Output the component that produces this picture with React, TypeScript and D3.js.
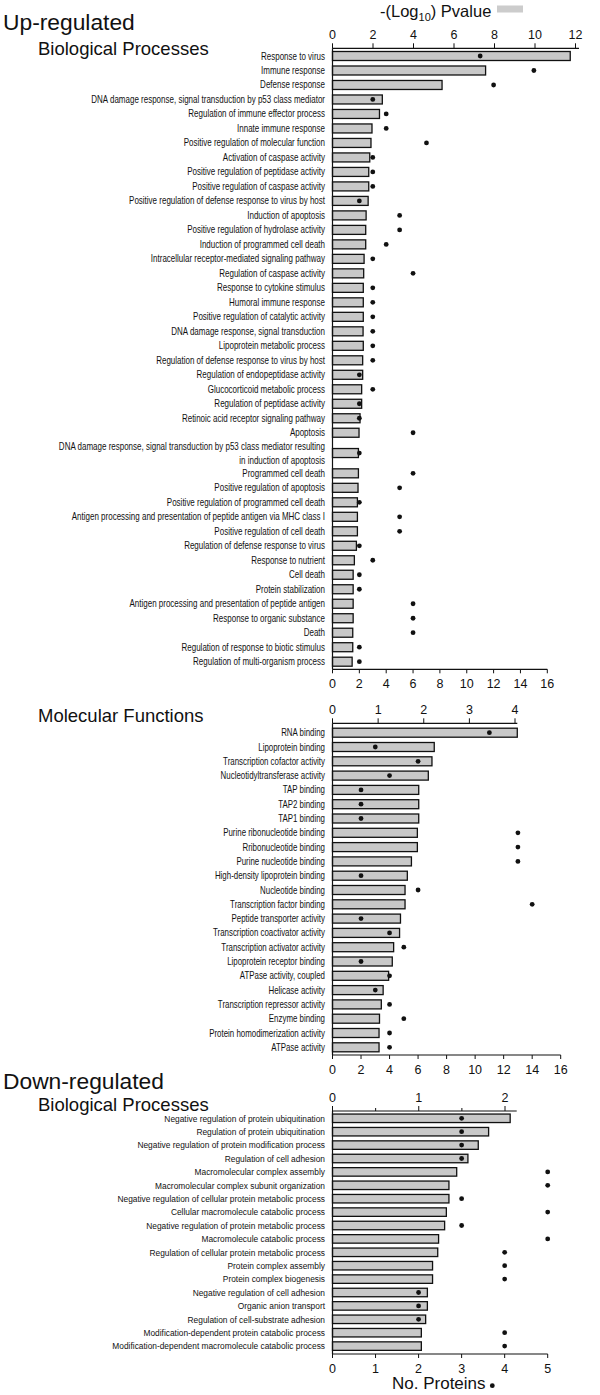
import React from "react";
import * as d3 from "d3";

// ---------------- Data ----------------
const upBPTerms = [
  "Response to virus",
  "Immune response",
  "Defense response",
  "DNA damage response, signal transduction by p53 class mediator",
  "Regulation of immune effector process",
  "Innate immune response",
  "Positive regulation of molecular function",
  "Activation of caspase activity",
  "Positive regulation of peptidase activity",
  "Positive regulation of caspase activity",
  "Positive regulation of defense response to virus by host",
  "Induction of apoptosis",
  "Positive regulation of hydrolase activity",
  "Induction of programmed cell death",
  "Intracellular receptor-mediated signaling pathway",
  "Regulation of caspase activity",
  "Response to cytokine stimulus",
  "Humoral immune response",
  "Positive regulation of catalytic activity",
  "DNA damage response, signal transduction",
  "Lipoprotein metabolic process",
  "Regulation of defense response to virus by host",
  "Regulation of endopeptidase activity",
  "Glucocorticoid metabolic process",
  "Regulation of peptidase activity",
  "Retinoic acid receptor signaling pathway",
  "Apoptosis",
  "DNA damage response, signal transduction by p53 class mediator resulting|in induction of apoptosis",
  "Programmed cell death",
  "Positive regulation of apoptosis",
  "Positive regulation of programmed cell death",
  "Antigen processing and presentation of peptide antigen via MHC class I",
  "Positive regulation of cell death",
  "Regulation of defense response to virus",
  "Response to nutrient",
  "Cell death",
  "Protein stabilization",
  "Antigen processing and presentation of peptide antigen",
  "Response to organic substance",
  "Death",
  "Regulation of response to biotic stimulus",
  "Regulation of multi-organism process",
];
const upBPLogP = [
  11.74, 7.56, 5.41, 2.46, 2.32, 1.95, 1.9, 1.84, 1.79, 1.79, 1.76, 1.66, 1.64,
  1.64, 1.56, 1.54, 1.52, 1.52, 1.52, 1.51, 1.52, 1.49, 1.49, 1.44, 1.44, 1.36,
  1.31, 1.28, 1.28, 1.26, 1.23, 1.23, 1.23, 1.18, 1.08, 1.02, 1.02, 1.02, 1.02,
  1.0, 1.0, 0.97,
];
const upBPCount = [
  11, 15, 12, 3, 4, 4, 7, 3, 3, 3, 2, 5, 5, 4, 3, 6, 3, 3, 3, 3, 3, 3, 2, 3, 2,
  2, 6, 2, 6, 5, 2, 5, 5, 2, 3, 2, 2, 6, 6, 6, 2, 2,
];

const upMFTerms = [
  "RNA binding",
  "Lipoprotein binding",
  "Transcription cofactor activity",
  "Nucleotidyltransferase activity",
  "TAP binding",
  "TAP2 binding",
  "TAP1 binding",
  "Purine ribonucleotide binding",
  "Rribonucleotide binding",
  "Purine nucleotide binding",
  "High-density lipoprotein binding",
  "Nucleotide binding",
  "Transcription factor binding",
  "Peptide transporter activity",
  "Transcription coactivator activity",
  "Transcription activator activity",
  "Lipoprotein receptor binding",
  "ATPase activity, coupled",
  "Helicase activity",
  "Transcription repressor activity",
  "Enzyme binding",
  "Protein homodimerization activity",
  "ATPase activity",
];
const upMFLogP = [
  4.05, 2.23, 2.18, 2.1, 1.89, 1.89, 1.89, 1.86, 1.86, 1.73, 1.64, 1.59, 1.59,
  1.49, 1.47, 1.34, 1.31, 1.23, 1.11, 1.07, 1.03, 1.02, 1.02,
];
const upMFCount = [
  11, 3, 6, 4, 2, 2, 2, 13, 13, 13, 2, 6, 14, 2, 4, 5, 2, 4, 3, 4, 5, 4, 4,
];

const downBPTerms = [
  "Negative regulation of protein ubiquitination",
  "Regulation of protein ubiquitination",
  "Negative regulation of protein modification process",
  "Regulation of cell adhesion",
  "Macromolecular complex assembly",
  "Macromolecular complex subunit organization",
  "Negative regulation of cellular protein metabolic process",
  "Cellular macromolecule catabolic process",
  "Negative regulation of protein metabolic process",
  "Macromolecule catabolic process",
  "Regulation of cellular protein metabolic process",
  "Protein complex assembly",
  "Protein complex biogenesis",
  "Negative regulation of cell adhesion",
  "Organic anion transport",
  "Regulation of cell-substrate adhesion",
  "Modification-dependent protein catabolic process",
  "Modification-dependent macromolecule catabolic process",
];
const downBPLogP = [
  2.06, 1.81, 1.69, 1.57, 1.44, 1.35, 1.35, 1.32, 1.3, 1.23, 1.22, 1.16, 1.16,
  1.1, 1.1, 1.08, 1.03, 1.03,
];
const downBPCount = [3, 3, 3, 3, 5, 5, 3, 5, 3, 5, 4, 4, 4, 2, 2, 2, 4, 4];

const upTopTicks = [0, 2, 4, 6, 8, 10, 12];
const mfTopTicks = [0, 1, 2, 3, 4];
const downTopTicks = [0, 1, 2];
const downTopMinor = [0.5, 1.5];
const countTicks16 = [0, 2, 4, 6, 8, 10, 12, 14, 16];
const countTicks5 = [0, 1, 2, 3, 4, 5];

// ---------------- Styles ----------------
const LABEL_FONT = "'Liberation Sans', Arial, Helvetica, sans-serif";
const MAIN_FONT = "'Liberation Sans', Arial, Helvetica, sans-serif";
const BAR_FILL = "#c8c8c8";
const INK = "#111";

type SectionProps = {
  terms: string[];
  logp: number[];
  counts: number[];
  firstRow: number;
  lastRow: number;
  topAxisY: number;
  bottomAxisY: number;
  pDomain: [number, number];
  pRange: [number, number];
  pAxisEnd: number;
  pTicks: number[];
  pMinor?: number[];
  nDomain: [number, number];
  nRange: [number, number];
  nTicks: number[];
  labelSize: number;
  labelScale: number;
  barH: number;
};

function Section(p: SectionProps) {
  const x = d3.scaleLinear().domain(p.pDomain).range(p.pRange);
  const xn = d3.scaleLinear().domain(p.nDomain).range(p.nRange);
  // Row weights: two-line labels take more room
  const weights = p.terms.map((t) => (t.includes("|") ? 1.8 : 1));
  const cum: number[] = [];
  let acc = 0;
  weights.forEach((w) => {
    cum.push(acc + w / 2);
    acc += w;
  });
  const y = d3
    .scaleLinear()
    .domain([cum[0], cum[cum.length - 1]])
    .range([p.firstRow, p.lastRow]);
  const x0 = x(0);
  const labelX = x0 - 7.5;
  const tickFont = 12.5;
  const label = (s: string, cy: number, key: string | number) => (
    <text
      key={key}
      transform={`translate(${labelX},${cy}) scale(${p.labelScale},1)`}
      dy="0.35em"
      textAnchor="end"
      fontFamily={LABEL_FONT}
      fontSize={p.labelSize}
      fill={INK}
    >
      {s}
    </text>
  );
  return (
    <g>
      {/* bars */}
      {p.logp.map((v, i) => (
        <rect
          key={"b" + i}
          x={x0}
          y={y(cum[i]) - p.barH / 2}
          width={x(v) - x0}
          height={p.barH}
          fill={BAR_FILL}
          stroke={INK}
          strokeWidth={1.3}
        />
      ))}
      {/* dots */}
      {p.counts.map((c, i) => (
        <circle key={"d" + i} cx={xn(c)} cy={y(cum[i])} r={2.4} fill={INK} />
      ))}
      {/* labels */}
      {p.terms.map((t, i) => {
        const parts = t.split("|");
        const cy = y(cum[i]);
        if (parts.length === 1) return label(t, cy, "l" + i);
        return (
          <g key={"l" + i}>
            {parts.map((s, k) => label(s, cy - 7 + k * 14, k))}
          </g>
        );
      })}
      {/* y axis line */}
      <line x1={x0} x2={x0} y1={p.topAxisY} y2={p.bottomAxisY} stroke={INK} strokeWidth={1.2} />
      {/* top axis */}
      <line x1={x0} x2={p.pAxisEnd} y1={p.topAxisY} y2={p.topAxisY} stroke={INK} strokeWidth={1.2} />
      {p.pTicks.map((t) => (
        <g key={"pt" + t}>
          <line x1={x(t)} x2={x(t)} y1={p.topAxisY} y2={p.topAxisY - 5} stroke={INK} strokeWidth={1} />
          <text
            x={x(t)}
            y={p.topAxisY - 9}
            textAnchor="middle"
            fontFamily={MAIN_FONT}
            fontSize={tickFont}
            fill={INK}
          >
            {t}
          </text>
        </g>
      ))}
      {(p.pMinor || []).map((t) => (
        <line key={"pm" + t} x1={x(t)} x2={x(t)} y1={p.topAxisY} y2={p.topAxisY - 3} stroke={INK} strokeWidth={1} />
      ))}
      {/* bottom axis */}
      <line x1={x0} x2={xn(p.nTicks[p.nTicks.length - 1])} y1={p.bottomAxisY} y2={p.bottomAxisY} stroke={INK} strokeWidth={1.2} />
      {p.nTicks.map((t) => (
        <g key={"nt" + t}>
          <line x1={xn(t)} x2={xn(t)} y1={p.bottomAxisY} y2={p.bottomAxisY + 4} stroke={INK} strokeWidth={1} />
          <text
            x={xn(t)}
            y={p.bottomAxisY + 19}
            textAnchor="middle"
            fontFamily={MAIN_FONT}
            fontSize={tickFont}
            fill={INK}
          >
            {t}
          </text>
        </g>
      ))}
    </g>
  );
}

export default function App() {
  return (
    <svg
      width={600}
      height={1395}
      viewBox="0 0 600 1395"
      style={{ position: "absolute", left: 0, top: 0, background: "#fff" }}
    >
      <rect x={0} y={0} width={600} height={1395} fill="#fff" />
      {/* header */}
      <text x={3} y={30} fontFamily={MAIN_FONT} fontSize={22.8} fill={INK}>
        Up-regulated
      </text>
      <text x={38} y={55} fontFamily={MAIN_FONT} fontSize={18.5} fill={INK}>
        Biological Processes
      </text>
      <text x={380} y={17} fontFamily={MAIN_FONT} fontSize={16.5} fill={INK}>
        -(Log
        <tspan fontSize={11} dy={4}>10</tspan>
        <tspan dy={-4}>) Pvalue</tspan>
      </text>
      <rect x={497} y={5.5} width={26} height={7} fill="#cccccc" />

      <Section
        terms={upBPTerms}
        logp={upBPLogP}
        counts={upBPCount}
        firstRow={56}
        lastRow={661.7}
        topAxisY={48.3}
        bottomAxisY={669.3}
        pDomain={[0, 12]}
        pRange={[332.5, 575.5]}
        pAxisEnd={579}
        pTicks={upTopTicks}
        nDomain={[0, 16]}
        nRange={[332.5, 547.3]}
        nTicks={countTicks16}
        labelSize={10}
        labelScale={0.8}
        barH={9}
      />

      <text x={38} y={722} fontFamily={MAIN_FONT} fontSize={18.5} fill={INK}>
        Molecular Functions
      </text>
      <Section
        terms={upMFTerms}
        logp={upMFLogP}
        counts={upMFCount}
        firstRow={732.7}
        lastRow={1047.3}
        topAxisY={723.3}
        bottomAxisY={1055}
        pDomain={[0, 4]}
        pRange={[332.5, 515]}
        pAxisEnd={517.3}
        pTicks={mfTopTicks}
        nDomain={[0, 16]}
        nRange={[332.5, 560.7]}
        nTicks={countTicks16}
        labelSize={10}
        labelScale={0.79}
        barH={9}
      />

      <text x={3} y={1089} fontFamily={MAIN_FONT} fontSize={22.8} fill={INK}>
        Down-regulated
      </text>
      <text x={38} y={1111} fontFamily={MAIN_FONT} fontSize={18.5} fill={INK}>
        Biological Processes
      </text>
      <Section
        terms={downBPTerms}
        logp={downBPLogP}
        counts={downBPCount}
        firstRow={1118.3}
        lastRow={1346.1}
        topAxisY={1111}
        bottomAxisY={1354}
        pDomain={[0, 2]}
        pRange={[332.5, 505]}
        pAxisEnd={516.7}
        pTicks={downTopTicks}
        pMinor={downTopMinor}
        nDomain={[0, 5]}
        nRange={[332.5, 547.7]}
        nTicks={countTicks5}
        labelSize={9.3}
        labelScale={0.9}
        barH={8.5}
      />

      <text x={392} y={1389} fontFamily={MAIN_FONT} fontSize={17} fill={INK}>
        No. Proteins
      </text>
      <circle cx={492.3} cy={1385.7} r={2.4} fill={INK} />
    </svg>
  );
}
